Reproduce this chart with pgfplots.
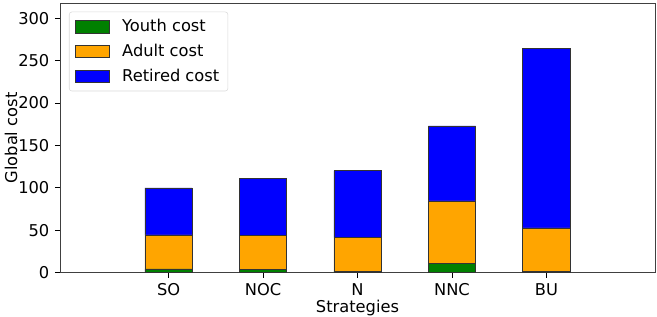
\documentclass[border=0pt]{standalone}
\usepackage{fontspec}
\setmainfont{DejaVu Sans}
\usepackage{pgfplots}
\pgfplotsset{compat=1.18}
\definecolor{mgreen}{HTML}{008000}
\definecolor{morange}{HTML}{FFA500}
\definecolor{mblue}{HTML}{0000FF}
\newcommand{\myfont}{\fontsize{12.2}{14.6}\selectfont}
\begin{document}
\myfont
\begin{tikzpicture}
\begin{axis}[
  name=ax,
  scale only axis,
  width=446.25pt, height=202pt,
  ybar stacked,
  bar width=0.5,
  xmin=-1.15, xmax=5.15,
  ymin=0, ymax=317.5,
  xtick=data,
  xticklabels={SO,NOC,N,NNC,BU},
  ytick={0,50,100,150,200,250,300},
  xtick pos=bottom, ytick pos=left,
  tick align=outside,
  major tick length=3.75pt,
  tick style={black, line width=0.6pt},
  axis line style={black!75, line width=0.6pt},
  /pgf/number format/assume math mode=true,
  ticklabel style={font=\myfont},
  xlabel={Strategies}, ylabel={Global cost},
  label style={font=\myfont},
  every axis x label/.style={at={(axis description cs:0.5,-0.131)}, anchor=center},
  every axis y label/.style={at={(axis description cs:-0.0824,0.5)}, anchor=center, rotate=90},
  area legend,
  legend image code/.code={\draw[#1, draw=black!80, line width=0.4pt, fill opacity=1, sharp corners] (0pt,-4.6pt) rectangle (25.3pt,4.6pt); \path[draw=none, fill=none] (0pt,0pt) -- (33pt,0pt);},
  legend cell align=left,
  legend style={at={(axis description cs:0.0151,0.969)}, anchor=north west,
    draw=black!15, rounded corners=2pt, fill=white, fill opacity=0.8, text opacity=1,
    font=\myfont, row sep=3.5pt, inner xsep=4.5pt, inner ysep=3.5pt},
]
\addplot[fill=mgreen, draw=black!80, line width=0.5pt] coordinates {(0,4.4) (1,3.5) (2,1.7) (3,11.2) (4,1.7)};
\addplot[fill=morange, draw=black!80, line width=0.5pt] coordinates {(0,40.1) (1,40.1) (2,39.6) (3,73.4) (4,51.0)};
\addplot[fill=mblue, draw=black!80, line width=0.5pt] coordinates {(0,55.4) (1,67.7) (2,79.0) (3,88.4) (4,211.9)};
\legend{Youth cost, Adult cost, Retired cost}
\coordinate (bl) at (rel axis cs:0,0);
\coordinate (tr) at (rel axis cs:1,1);
\end{axis}
\pgfresetboundingbox
\path[use as bounding box] ([shift={(-45pt,-33.2pt)}]bl) rectangle ([shift={(1.5pt,2.5pt)}]tr);
\end{tikzpicture}
\end{document}
